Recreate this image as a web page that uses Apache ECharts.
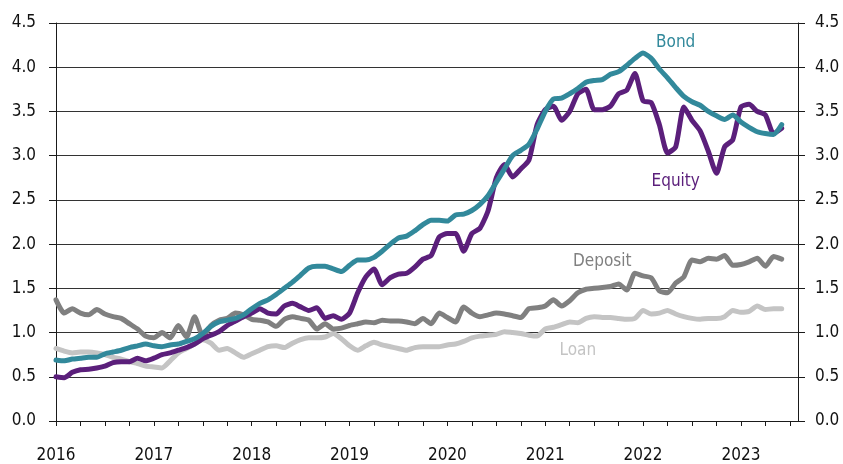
<!DOCTYPE html>
<html>
<head>
<meta charset="utf-8">
<script src="https://cdn.jsdelivr.net/npm/echarts@6/dist/echarts.min.js"></script>
<style>
  html, body { margin: 0; padding: 0; background: #fff; }
  #chart { width: 843px; height: 464px; }
</style>
</head>
<body>
<div id="chart"></div>
<script>
// monthly, Jan 2016 .. Jun 2023 (axis runs on to Aug 2023)
const years = ['2016', '2017', '2018', '2019', '2020', '2021', '2022', '2023']
const monthsShown = 92

const equity = [
  0.50, 0.49, 0.55, 0.58, 0.585, 0.60, 0.62, 0.66, 0.67, 0.67, 0.71, 0.68,
  0.71, 0.75, 0.77, 0.80, 0.83, 0.87, 0.93, 0.97, 1.01, 1.08, 1.13, 1.18,
  1.22, 1.27, 1.22, 1.21, 1.30, 1.33, 1.29, 1.25, 1.28, 1.16, 1.19, 1.15,
  1.22, 1.45, 1.63, 1.72, 1.54, 1.62, 1.66, 1.67, 1.74, 1.83, 1.87, 2.08,
  2.12, 2.12, 1.92, 2.12, 2.18, 2.38, 2.75, 2.90, 2.76, 2.85, 2.95, 3.35,
  3.52, 3.56, 3.40, 3.50, 3.70, 3.75, 3.52, 3.52, 3.56, 3.70, 3.74, 3.93,
  3.62, 3.60, 3.35, 3.03, 3.10, 3.55, 3.40, 3.28, 3.05, 2.80, 3.10, 3.18,
  3.55, 3.58, 3.50, 3.46, 3.25, 3.31
]
const bond = [
  0.69, 0.68, 0.70, 0.71, 0.72, 0.72, 0.76, 0.78, 0.80, 0.83, 0.85, 0.87,
  0.85, 0.84, 0.86, 0.87, 0.90, 0.93, 0.99, 1.07, 1.12, 1.14, 1.16, 1.20,
  1.27, 1.33, 1.37, 1.43, 1.50, 1.57, 1.65, 1.73, 1.75, 1.75, 1.72, 1.69,
  1.76, 1.82, 1.82, 1.85, 1.92, 2.00, 2.07, 2.09, 2.15, 2.22, 2.27, 2.27,
  2.26, 2.33, 2.34, 2.38, 2.45, 2.55, 2.70, 2.85, 3.00, 3.06, 3.13, 3.30,
  3.50, 3.64, 3.65, 3.70, 3.76, 3.83, 3.85, 3.86, 3.92, 3.95, 4.02, 4.10,
  4.16, 4.10, 3.98, 3.88, 3.77, 3.67, 3.61, 3.57, 3.50, 3.45, 3.41, 3.46,
  3.38, 3.32, 3.27, 3.25, 3.24, 3.35
]
const deposit = [
  1.37, 1.22, 1.27, 1.22, 1.20, 1.26, 1.21, 1.18, 1.16, 1.10, 1.04, 0.96,
  0.94, 1.00, 0.94, 1.08, 0.95, 1.18, 0.96, 1.08, 1.14, 1.16, 1.22, 1.20,
  1.15, 1.14, 1.12, 1.07, 1.15, 1.18, 1.16, 1.14, 1.04, 1.10, 1.04, 1.05,
  1.08, 1.10, 1.12, 1.11, 1.14, 1.13, 1.13, 1.12, 1.10, 1.16, 1.10, 1.22,
  1.17, 1.12, 1.29, 1.22, 1.18, 1.20, 1.22, 1.21, 1.19, 1.17, 1.27, 1.28,
  1.30, 1.37, 1.30, 1.36, 1.45, 1.49, 1.50, 1.51, 1.52, 1.55, 1.48, 1.67,
  1.64, 1.62, 1.47, 1.45, 1.56, 1.63, 1.82, 1.80, 1.84, 1.83, 1.87, 1.76,
  1.77, 1.80, 1.84, 1.75, 1.86, 1.83
]
const loan = [
  0.82, 0.79, 0.77, 0.78, 0.78, 0.77, 0.75, 0.72, 0.70, 0.67, 0.65, 0.62,
  0.61, 0.60, 0.68, 0.77, 0.82, 0.87, 0.92, 0.88, 0.80, 0.82, 0.77, 0.72,
  0.76, 0.80, 0.84, 0.85, 0.83, 0.88, 0.92, 0.94, 0.94, 0.95, 0.99, 0.93,
  0.85, 0.80, 0.85, 0.89, 0.86, 0.84, 0.82, 0.80, 0.83, 0.84, 0.84, 0.84,
  0.86, 0.87, 0.90, 0.94, 0.96, 0.97, 0.98, 1.01, 1.00, 0.99, 0.97, 0.96,
  1.04, 1.06, 1.09, 1.12, 1.11, 1.16, 1.18, 1.17, 1.17, 1.16, 1.15, 1.16,
  1.25, 1.21, 1.22, 1.25, 1.21, 1.18, 1.16, 1.15, 1.16, 1.16, 1.18, 1.25,
  1.23, 1.24, 1.30, 1.26, 1.27, 1.27
]

const months = []
for (let i = 0; i < monthsShown; i++) {
  const y = years[0] * 1 + Math.floor(i / 12)
  const m = (i % 12) + 1
  months.push(y + '-' + (m < 10 ? '0' + m : m))
}

const font = '"DejaVu Sans Condensed", "Liberation Sans Narrow", sans-serif'
const axisColor = '#1a1a1a'

const chart = echarts.init(document.getElementById('chart'))

function yAxis(pos, margin, grid) {
  return {
    type: 'value',
    position: pos,
    min: 0,
    max: 4.5,
    interval: 0.5,
    axisLine: { show: true, lineStyle: { color: axisColor, width: 1 } },
    axisTick: { show: true, inside: false, length: 7, lineStyle: { color: axisColor } },
    axisLabel: {
      margin: margin,
      color: '#111',
      fontSize: 17,
      fontFamily: font,
      formatter: v => v.toFixed(1)
    },
    splitLine: { show: grid, lineStyle: { color: '#333', width: 1 } }
  }
}

function lineSeries(name, data, color, z, label) {
  return {
    name: name,
    type: 'line',
    data: data,
    z: z,
    symbol: 'none',
    smooth: 0.2,
    lineStyle: { color: color, width: 5, cap: 'round', join: 'round' },
    markPoint: {
      symbol: 'circle',
      symbolSize: 0,
      silent: true,
      data: [{
        coord: label.coord,
        label: {
          show: true,
          position: 'inside',
          formatter: name,
          color: color,
          fontSize: 17,
          fontFamily: font
        }
      }]
    },
    animation: false
  }
}

chart.setOption({
  animation: false,
  grid: { left: 56, right: 45, top: 23, bottom: 43 },
  xAxis: {
    type: 'category',
    data: months,
    boundaryGap: false,
    axisLine: { show: true, lineStyle: { color: axisColor, width: 1 } },
    axisTick: {
      show: true,
      length: 5,
      interval: (i) => i % 3 === 0,
      lineStyle: { color: axisColor }
    },
    axisLabel: {
      interval: (i) => i % 12 === 0,
      formatter: (v) => v.slice(0, 4),
      margin: 26,
      color: '#111',
      fontSize: 17,
      fontFamily: font
    },
    splitLine: { show: false }
  },
  yAxis: [yAxis('left', 20, true), yAxis('right', 17, false)],
  series: [
    lineSeries('Loan', loan, '#c4c4c4', 1, { coord: [64, 0.80] }),
    lineSeries('Deposit', deposit, '#808080', 2, { coord: [67, 1.80] }),
    lineSeries('Equity', equity, '#5b1f7b', 3, { coord: [76, 2.71] }),
    lineSeries('Bond', bond, '#32899b', 4, { coord: [76, 4.28] })
  ]
})
</script>
</body>
</html>
